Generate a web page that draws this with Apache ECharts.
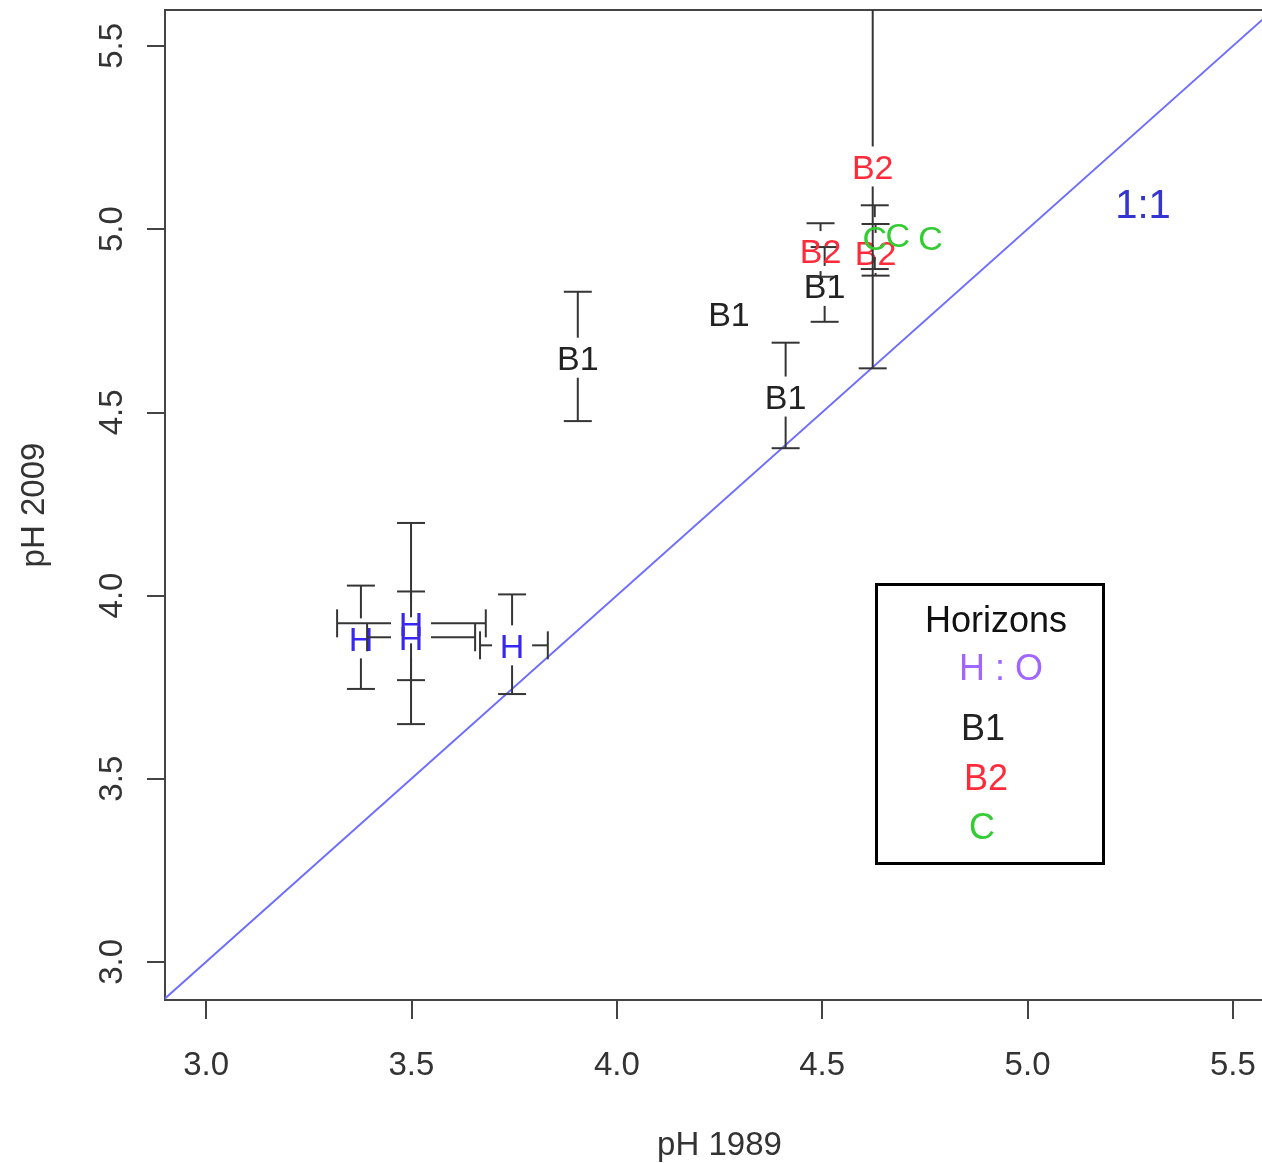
<!DOCTYPE html>
<html>
<head>
<meta charset="utf-8">
<title>pH 1989 vs pH 2009</title>
<script src="https://cdn.jsdelivr.net/npm/echarts@6/dist/echarts.min.js"></script>
<style>
  html, body { margin: 0; padding: 0; background: #ffffff; overflow: hidden; }
  #chart { width: 1262px; height: 1163px; }
</style>
</head>
<body>
<div id="chart"></div>
<script>
// Axis ticks and extents (pH units)
const tickValues = [3.0, 3.5, 4.0, 4.5, 5.0, 5.5];
const rangeX = [2.9, 5.6];
const rangeY = [2.896, 5.598];
const oneToOneLine = [[2.9, 2.9], [5.6, 5.6]];

// One row per profile: [pH 1989, pH 2009, 2009 low, 2009 high, 1989 low, 1989 high]
const horizonH = [
  [3.377, 3.883, 3.745, 4.027, null, null],
  [3.499, 3.924, 3.649, 4.198, 3.319, 3.681],
  [3.499, 3.886, 3.769, 4.011, 3.392, 3.655],
  [3.745, 3.864, 3.731, 4.003, 3.667, 3.832]
];
const horizonB1 = [
  [3.905, 4.649, 4.476, 4.829, null, null],
  [4.273, 4.769, null, null, null, null],
  [4.411, 4.543, 4.402, 4.690, null, null],
  [4.506, 4.845, 4.747, 4.951, null, null]
];
const horizonB2 = [
  [4.496, 4.940, 4.870, 5.016, null, null],
  [4.630, 4.935, 4.873, 5.014, null, null],
  [4.623, 5.171, 4.620, 5.723, null, null]
];
const horizonC = [
  [4.628, 4.978, 4.891, 5.065, null, null],
  [4.684, 4.986, null, null, null, null],
  [4.764, 4.978, null, null, null, null]
];

const legendTitle = 'Horizons';
const legendLabels = ['H : O', 'B1', 'B2', 'C'];

const FONT = '"Liberation Sans", Arial, Helvetica, sans-serif';
const BAR_COLOR = '#353535';
const GAP = 20;    // empty space left around each label
const CAP = 14;    // half width of the error bar caps
const TEXT_DY = 3; // centres the capitals (not the em box) on the point

// Error bars stop short of the label, like plotCI(gap = ...)
function horizonRenderer(rows, label, color) {
  return function (params, api) {
    const r = rows[params.dataIndex];
    const c = api.coord([r[0], r[1]]);
    const kids = [];
    const seg = (x1, y1, x2, y2) => kids.push({
      type: 'line',
      shape: { x1: x1, y1: y1, x2: x2, y2: y2 },
      style: { stroke: BAR_COLOR, lineWidth: 2 }
    });
    if (r[2] != null) {
      const lo = api.coord([r[0], r[2]])[1];
      const hi = api.coord([r[0], r[3]])[1];
      if (hi < c[1] - GAP) { seg(c[0], c[1] - GAP, c[0], hi); seg(c[0] - CAP, hi, c[0] + CAP, hi); }
      if (lo > c[1] + GAP) { seg(c[0], c[1] + GAP, c[0], lo); seg(c[0] - CAP, lo, c[0] + CAP, lo); }
    }
    if (r[4] != null) {
      const lo = api.coord([r[4], r[1]])[0];
      const hi = api.coord([r[5], r[1]])[0];
      if (lo < c[0] - GAP) { seg(c[0] - GAP, c[1], lo, c[1]); seg(lo, c[1] - CAP, lo, c[1] + CAP); }
      if (hi > c[0] + GAP) { seg(c[0] + GAP, c[1], hi, c[1]); seg(hi, c[1] - CAP, hi, c[1] + CAP); }
    }
    kids.push({
      type: 'text',
      style: {
        x: c[0], y: c[1] + TEXT_DY, text: label, fill: color,
        font: '34px ' + FONT, align: 'center', verticalAlign: 'middle'
      }
    });
    return { type: 'group', children: kids };
  };
}

function horizonSeries(name, rows, label, color) {
  return {
    name: name,
    type: 'custom',
    coordinateSystem: 'cartesian2d',
    clip: true,
    data: rows.map(r => [r[0], r[1]]),
    renderItem: horizonRenderer(rows, label, color),
    z: 3
  };
}

function legendText(text, x, y, color) {
  return {
    type: 'text', x: x, y: y + TEXT_DY, z: 11,
    style: { text: text, font: '36px ' + FONT, fill: color, align: 'center', verticalAlign: 'middle' }
  };
}

const axisStyle = { color: '#444444', width: 2 };

const option = {
  backgroundColor: '#ffffff',
  animation: false,
  grid: {
    left: 165, top: 10, width: 1109, height: 990,
    show: true, borderColor: '#444444', borderWidth: 2,
    outerBoundsMode: 'none', containLabel: false
  },
  xAxis: {
    type: 'value', min: rangeX[0], max: rangeX[1],
    axisLine: { show: true, onZero: false, lineStyle: axisStyle },
    axisTick: { show: true, customValues: tickValues, length: 19, lineStyle: axisStyle },
    axisLabel: {
      customValues: tickValues, formatter: v => v.toFixed(1),
      fontSize: 33, fontFamily: FONT, color: '#333333', margin: 49
    },
    splitLine: { show: false },
    name: 'pH 1989', nameLocation: 'middle', nameGap: 129,
    nameTextStyle: { fontSize: 33, fontFamily: FONT, color: '#333333' }
  },
  yAxis: {
    type: 'value', min: rangeY[0], max: rangeY[1],
    axisLine: { show: true, onZero: false, lineStyle: axisStyle },
    axisTick: { show: true, customValues: tickValues, length: 18, lineStyle: axisStyle },
    axisLabel: {
      customValues: tickValues, formatter: v => v.toFixed(1), rotate: 90,
      fontSize: 33, fontFamily: FONT, color: '#333333', margin: 36
    },
    splitLine: { show: false },
    name: 'pH 2009', nameLocation: 'middle', nameGap: 114, nameRotate: 90,
    nameTextStyle: { fontSize: 33, fontFamily: FONT, color: '#333333' }
  },
  series: [
    {
      name: '1:1', type: 'line', data: oneToOneLine, symbol: 'none', silent: true,
      lineStyle: { color: '#6e6eff', width: 2 }, z: 1
    },
    horizonSeries(legendLabels[0], horizonH, 'H', '#3826f2'),
    horizonSeries(legendLabels[1], horizonB1, 'B1', '#222222'),
    horizonSeries(legendLabels[2], horizonB2, 'B2', '#ff2a3a'),
    horizonSeries(legendLabels[3], horizonC, 'C', '#33cc33')
  ],
  graphic: [
    {
      type: 'text', x: 1143, y: 204 + TEXT_DY,
      style: { text: '1:1', font: '40px ' + FONT, fill: '#3434d0', align: 'center', verticalAlign: 'middle' }
    },
    {
      type: 'rect', shape: { x: 876.5, y: 584.5, width: 227, height: 279 },
      style: { fill: '#ffffff', stroke: '#000000', lineWidth: 3 }, z: 10
    },
    legendText(legendTitle, 996, 619, '#111111'),
    legendText(legendLabels[0], 1001, 667, '#a066ff'),
    legendText(legendLabels[1], 983, 727, '#222222'),
    legendText(legendLabels[2], 986, 777, '#ff2a3a'),
    legendText(legendLabels[3], 982, 826, '#33cc33')
  ]
};

const chart = echarts.init(document.getElementById('chart'), null, { renderer: 'canvas' });
chart.setOption(option);
</script>
</body>
</html>
